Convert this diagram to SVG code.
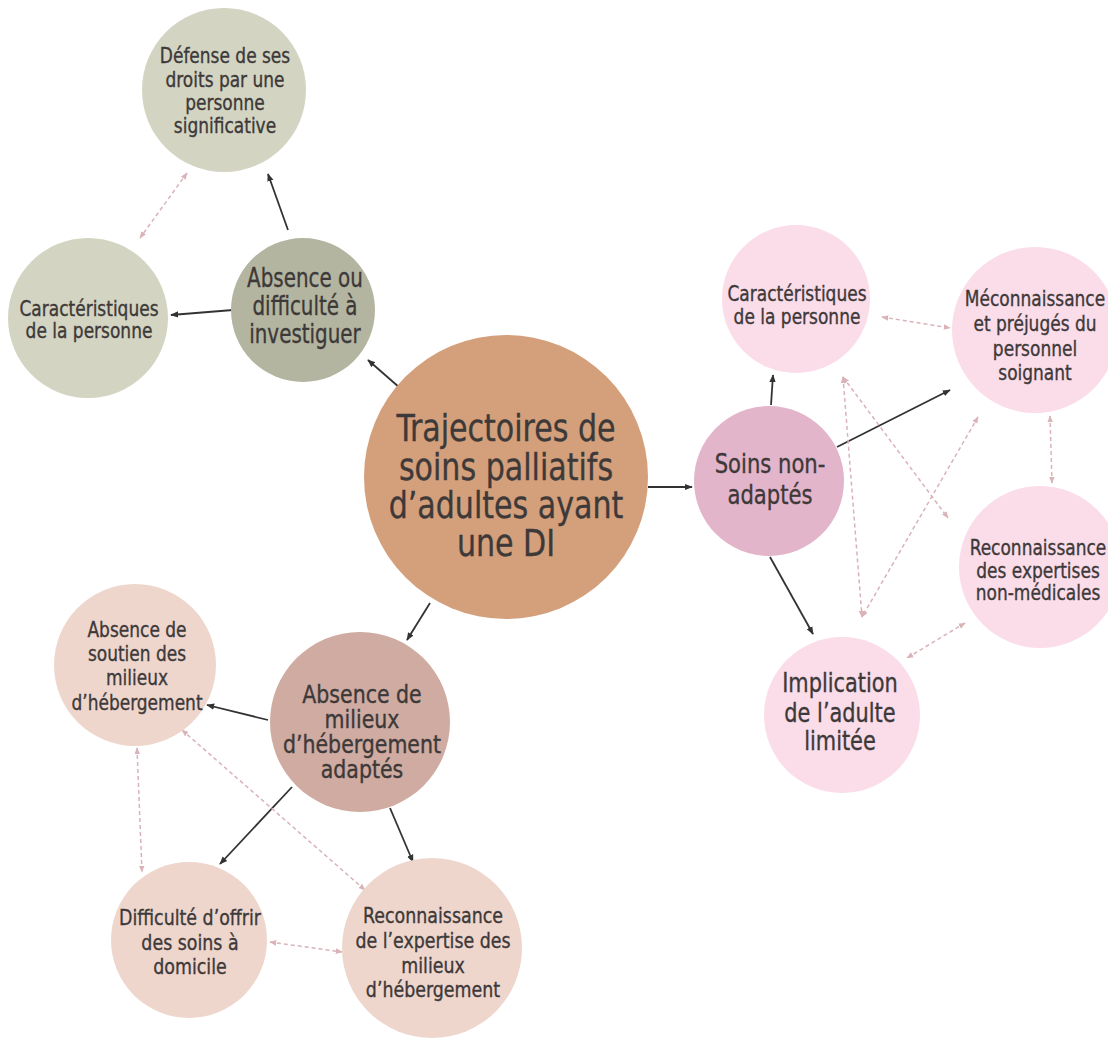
<svg xmlns="http://www.w3.org/2000/svg" width="1108" height="1041" viewBox="0 0 1108 1041">
<defs>
<style>
.t{font-family:"Liberation Sans Narrow","DejaVu Sans Condensed","Liberation Sans",sans-serif;fill:#3d3939;stroke:#3d3939;stroke-width:0.35;text-anchor:middle;}
.s22{font-size:22px;}
.s24{font-size:24px;}
.s27{font-size:27px;}
.s38{font-size:38px;}
.solid{stroke:#333;stroke-width:1.8;fill:none;marker-end:url(#ah);}
.dash{stroke:#d9b3b8;stroke-width:1.5;fill:none;stroke-dasharray:4 3;marker-end:url(#ahd);marker-start:url(#ahds);}
</style>
<marker id="ah" viewBox="0 0 10 10" refX="9" refY="5" markerWidth="8" markerHeight="8" markerUnits="userSpaceOnUse" orient="auto"><path d="M0,1 L10,5 L0,9 z" fill="#333"/></marker>
<marker id="ahd" viewBox="0 0 10 10" refX="9" refY="5" markerWidth="7" markerHeight="7" markerUnits="userSpaceOnUse" orient="auto"><path d="M0,1 L10,5 L0,9 z" fill="#d9b3b8"/></marker>
<marker id="ahds" viewBox="0 0 10 10" refX="1" refY="5" markerWidth="7" markerHeight="7" markerUnits="userSpaceOnUse" orient="auto"><path d="M10,1 L0,5 L10,9 z" fill="#d9b3b8"/></marker>
</defs>
<rect width="1108" height="1041" fill="#ffffff"/>
<g id="connectors">
<line class="solid" x1="400" y1="388" x2="368" y2="360"/>
<line class="solid" x1="288" y1="230" x2="268" y2="174"/>
<line class="solid" x1="233" y1="310" x2="171" y2="315"/>
<line class="dash" x1="187" y1="173" x2="140" y2="238"/>
<line class="solid" x1="648" y1="487" x2="692" y2="487"/>
<line class="solid" x1="771" y1="405" x2="773" y2="375"/>
<line class="solid" x1="837" y1="447" x2="950" y2="390"/>
<line class="solid" x1="770" y1="557" x2="813" y2="634"/>
<line class="dash" x1="882" y1="317" x2="950" y2="328"/>
<line class="dash" x1="1050" y1="416" x2="1052" y2="483"/>
<line class="dash" x1="965" y1="623" x2="907" y2="658"/>
<line class="dash" x1="843" y1="377" x2="862" y2="617"/>
<line class="dash" x1="843" y1="377" x2="948" y2="518"/>
<line class="dash" x1="978" y1="417" x2="862" y2="617"/>
<line class="solid" x1="430" y1="603" x2="407" y2="640"/>
<line class="solid" x1="268" y1="720" x2="207" y2="705"/>
<line class="solid" x1="292" y1="787" x2="220" y2="864"/>
<line class="solid" x1="390" y1="808" x2="413" y2="862"/>
<line class="dash" x1="137" y1="748" x2="142" y2="872"/>
<line class="dash" x1="182" y1="730" x2="365" y2="890"/>
<line class="dash" x1="270" y1="942" x2="342" y2="952"/>
</g>
<g id="n-center">
<circle cx="506" cy="477" r="142" fill="#d49f7b"/>
<g transform="translate(506 0) scale(0.88 1)">
<text class="t s38" x="0" y="441">Trajectoires de</text>
<text class="t s38" x="0" y="480">soins palliatifs</text>
<text class="t s38" x="0" y="518">d’adultes ayant</text>
<text class="t s38" x="0" y="556">une DI</text>
</g>
</g>
<g id="n-defense">
<circle cx="224" cy="90" r="82" fill="#d3d4c1"/>
<g transform="translate(225 0) scale(0.86 1)">
<text class="t s22" x="0" y="63">Défense de ses</text>
<text class="t s22" x="0" y="87">droits par une</text>
<text class="t s22" x="0" y="110">personne</text>
<text class="t s22" x="0" y="133">significative</text>
</g>
</g>
<g id="n-carac-left">
<circle cx="88" cy="318" r="80" fill="#d3d4c1"/>
<g transform="translate(89 0) scale(0.86 1)">
<text class="t s22" x="0" y="316">Caractéristiques</text>
<text class="t s22" x="0" y="338">de la personne</text>
</g>
</g>
<g id="n-absence-inv">
<circle cx="303" cy="310" r="72" fill="#b4b5a0"/>
<g transform="translate(305 0) scale(0.82 1)">
<text class="t s27" x="0" y="287">Absence ou</text>
<text class="t s27" x="0" y="315">difficulté à</text>
<text class="t s27" x="0" y="343">investiguer</text>
</g>
</g>
<g id="n-soins">
<circle cx="769" cy="481" r="75" fill="#e3b5cb"/>
<g transform="translate(770 0) scale(0.87 1)">
<text class="t s27" x="0" y="473">Soins non-</text>
<text class="t s27" x="0" y="504">adaptés</text>
</g>
</g>
<g id="n-carac-right">
<circle cx="796" cy="299" r="74" fill="#fbdce9"/>
<g transform="translate(797 0) scale(0.86 1)">
<text class="t s22" x="0" y="301">Caractéristiques</text>
<text class="t s22" x="0" y="324">de la personne</text>
</g>
</g>
<g id="n-meconn">
<circle cx="1035" cy="330" r="83" fill="#fbdce9"/>
<g transform="translate(1035 0) scale(0.86 1)">
<text class="t s22" x="0" y="306">Méconnaissance</text>
<text class="t s22" x="0" y="331">et préjugés du</text>
<text class="t s22" x="0" y="356">personnel</text>
<text class="t s22" x="0" y="380">soignant</text>
</g>
</g>
<g id="n-reconn-exp">
<circle cx="1040" cy="567" r="81" fill="#fbdce9"/>
<g transform="translate(1038 0) scale(0.86 1)">
<text class="t s22" x="0" y="555">Reconnaissance</text>
<text class="t s22" x="0" y="578">des expertises</text>
<text class="t s22" x="0" y="600">non-médicales</text>
</g>
</g>
<g id="n-implication">
<circle cx="842" cy="715" r="78" fill="#fbdce9"/>
<g transform="translate(840 0) scale(0.86 1)">
<text class="t s27" x="0" y="692">Implication</text>
<text class="t s27" x="0" y="722">de l’adulte</text>
<text class="t s27" x="0" y="750">limitée</text>
</g>
</g>
<g id="n-absence-milieux">
<circle cx="360" cy="722" r="90" fill="#cfaba1"/>
<g transform="translate(362 0) scale(0.95 1)">
<text class="t s24" x="0" y="703">Absence de</text>
<text class="t s24" x="0" y="728">milieux</text>
<text class="t s24" x="0" y="753">d’hébergement</text>
<text class="t s24" x="0" y="778">adaptés</text>
</g>
</g>
<g id="n-soutien">
<circle cx="135" cy="665" r="81" fill="#eed6cd"/>
<g transform="translate(137 0) scale(0.86 1)">
<text class="t s22" x="0" y="637">Absence de</text>
<text class="t s22" x="0" y="661">soutien des</text>
<text class="t s22" x="0" y="685">milieux</text>
<text class="t s22" x="0" y="710">d’hébergement</text>
</g>
</g>
<g id="n-difficulte">
<circle cx="189" cy="940" r="78" fill="#eed6cd"/>
<g transform="translate(190 0) scale(0.88 1)">
<text class="t s22" x="0" y="925">Difficulté d’offrir</text>
<text class="t s22" x="0" y="950">des soins à</text>
<text class="t s22" x="0" y="974">domicile</text>
</g>
</g>
<g id="n-reconn-milieux">
<circle cx="432" cy="948" r="90" fill="#eed6cd"/>
<g transform="translate(433 0) scale(0.88 1)">
<text class="t s22" x="0" y="923">Reconnaissance</text>
<text class="t s22" x="0" y="948">de l’expertise des</text>
<text class="t s22" x="0" y="973">milieux</text>
<text class="t s22" x="0" y="997">d’hébergement</text>
</g>
</g>
</svg>
